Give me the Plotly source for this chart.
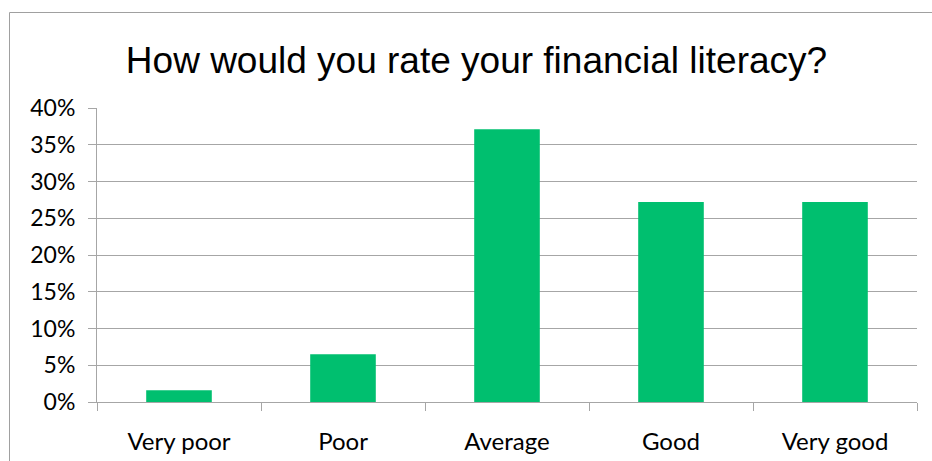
import plotly.graph_objects as go

categories = ["Very poor", "Poor", "Average", "Good", "Very good"]
shares = [0.016, 0.065, 0.371, 0.272, 0.272]
y_ticks = [0, 0.05, 0.10, 0.15, 0.20, 0.25, 0.30, 0.35, 0.40]
y_tick_labels = ["0%", "5%", "10%", "15%", "20%", "25%", "30%", "35%", "40%"]
title_text = "How would you rate your financial literacy?"

W, H = 932, 461
ML, MR, MT, MB = 97, 15, 108, 59
plot_w = W - ML - MR
plot_h = H - MT - MB


def px_to_paper_x(px):
    return (px - ML) / plot_w


def px_to_paper_y(py):
    return (H - MB - py) / plot_h


grid_col = "#a6a6a6"
font_family = "Lato, Carlito, sans-serif"

fig = go.Figure(
    go.Bar(
        x=categories,
        y=shares,
        marker=dict(color="#00BF6F", line=dict(width=0)),
        hoverinfo="x+y",
    )
)

fig.update_layout(
    width=W,
    height=H,
    margin=dict(l=ML, r=MR, t=MT, b=MB, autoexpand=False),
    paper_bgcolor="white",
    plot_bgcolor="white",
    bargap=0.6,
    showlegend=False,
    title=dict(
        text=title_text,
        x=476.5 / W,
        xanchor="center",
        xref="container",
        y=1 - 60 / H,
        yanchor="middle",
        yref="container",
        font=dict(family="Liberation Sans, Arial, sans-serif", size=37, color="#000000"),
    ),
    xaxis=dict(
        type="category",
        automargin=False,
        showline=True,
        linecolor=grid_col,
        linewidth=1,
        ticks="outside",
        tickson="boundaries",
        ticklen=8,
        tickcolor=grid_col,
        tickfont=dict(family=font_family, size=24, color="#000000"),
        ticklabelstandoff=18,
        showgrid=False,
        zeroline=False,
    ),
    yaxis=dict(
        range=[0, 0.40],
        automargin=False,
        tickvals=y_ticks,
        ticktext=y_tick_labels,
        showline=True,
        linecolor=grid_col,
        linewidth=1,
        ticks="outside",
        ticklen=8,
        tickcolor=grid_col,
        tickfont=dict(family=font_family, size=23, color="#000000"),
        showgrid=True,
        gridcolor=grid_col,
        gridwidth=1,
        zeroline=False,
        ticklabelstandoff=8,
    ),
    shapes=[
        dict(
            type="rect",
            xref="paper",
            yref="paper",
            x0=px_to_paper_x(9.5),
            x1=px_to_paper_x(950),
            y0=px_to_paper_y(480),
            y1=px_to_paper_y(12.5),
            line=dict(color="#a0a0a0", width=1),
            fillcolor="rgba(0,0,0,0)",
            layer="below",
        )
    ],
)

fig.write_html("out.html")
